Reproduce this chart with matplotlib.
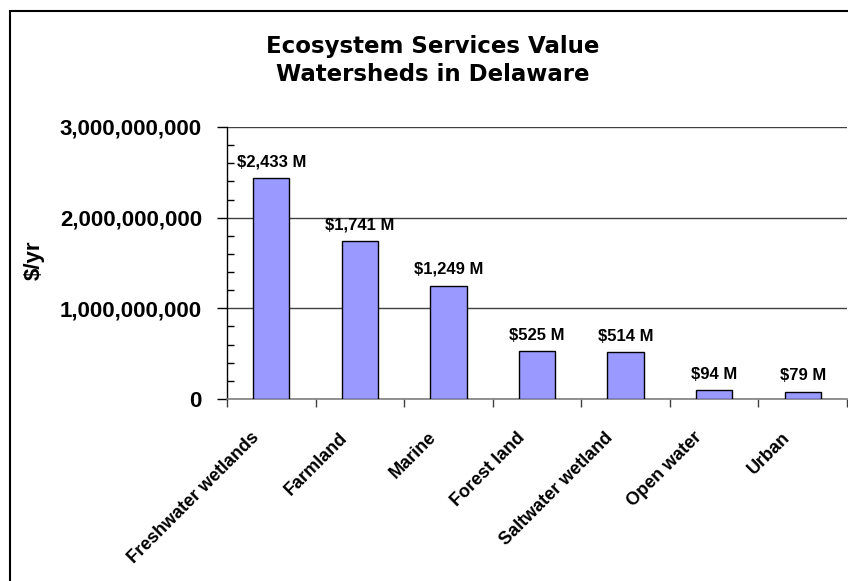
"""
Ecosystem services value of Delaware watersheds, Excel-style bar chart.
"""

from matplotlib import pyplot as plt
from matplotlib.patches import Rectangle
from matplotlib.ticker import FuncFormatter, MultipleLocator, FixedLocator
import matplotlib.transforms as mtransforms
import numpy as np

categories = ['Freshwater wetlands', 'Farmland', 'Marine', 'Forest land',
              'Saltwater wetland', 'Open water', 'Urban']
values_musd = [2433, 1741, 1249, 525, 514, 94, 79]
bar_labels = ['$2,433 M', '$1,741 M', '$1,249 M', '$525 M', '$514 M', '$94 M', '$79 M']

W, H = 848, 581
fig = plt.figure(figsize=(W / 100, H / 100), dpi=100)
plt.rcParams['font.family'] = ['Liberation Sans', 'DejaVu Sans']
plt.rcParams['font.weight'] = 'bold'

# outer chart border (cut off on right and bottom)
fig.patches.append(Rectangle((10 / W, -0.05), 1.0, 1.05 - 11 / H, transform=fig.transFigure,
                             fill=False, edgecolor='black', linewidth=1.5))

ax = fig.add_axes([227 / W, 1 - 399 / H, 620 / W, 272 / H])
x = np.arange(len(categories))
vals = np.array(values_musd) * 1e6
ax.bar(x, vals, width=0.41, color='#9999FF', edgecolor='black', linewidth=1, zorder=3)

for xi, v, lab in zip(x, vals, bar_labels):
    ax.annotate(lab, (xi, v), xytext=(0, 8.5), textcoords='offset points',
                ha='center', va='baseline', fontsize=12, fontweight='bold')

ax.set_xlim(-0.5, len(categories) - 0.5)
ax.set_ylim(0, 3e9)

# y axis
ax.yaxis.set_major_locator(MultipleLocator(1e9))
ax.yaxis.set_minor_locator(MultipleLocator(2e8))
ax.yaxis.set_major_formatter(FuncFormatter(lambda v, p: f'{int(v):,}'))
ax.tick_params(axis='y', which='major', direction='out', length=7, width=1,
               labelsize=16, pad=11)
ax.tick_params(axis='y', which='minor', direction='in', length=5, width=1)
ax.yaxis.grid(True, which='major', color='#404040', linewidth=1, zorder=1)

# x axis: marks between categories, labels at centers
ax.xaxis.set_major_locator(FixedLocator(x))
ax.xaxis.set_minor_locator(FixedLocator(np.arange(-0.5, len(categories), 1.0)))
ax.set_xticklabels(categories, rotation=45, ha='right', va='center',
                   rotation_mode='anchor', fontsize=13, fontweight='bold')
ax.tick_params(axis='x', which='major', length=0, pad=26)
ax.tick_params(axis='x', which='minor', direction='out', length=6, width=1, color='#404040')
offset = mtransforms.ScaledTranslation(-0.15, 0, fig.dpi_scale_trans)
for lab in ax.get_xticklabels():
    lab.set_transform(lab.get_transform() + offset)

for lab in ax.get_yticklabels():
    lab.set_fontweight('bold')

ax.spines['top'].set_visible(False)
ax.spines['right'].set_visible(False)
ax.spines['bottom'].set_color('#808080')
ax.spines['bottom'].set_linewidth(1.2)
ax.spines['left'].set_linewidth(1)

fig.text(433 / W, 1 - 53.3 / H, 'Ecosystem Services Value', ha='center', va='baseline',
         fontsize=16.5, fontweight='bold', family='DejaVu Sans')
fig.text(433 / W, 1 - 81 / H, 'Watersheds in Delaware', ha='center', va='baseline',
         fontsize=16.5, fontweight='bold', family='DejaVu Sans')
fig.text(34 / W, 1 - 260 / H, '$/yr', rotation=90, ha='center', va='center',
         fontsize=16, fontweight='bold')

plt.savefig('out.png', dpi=100)
